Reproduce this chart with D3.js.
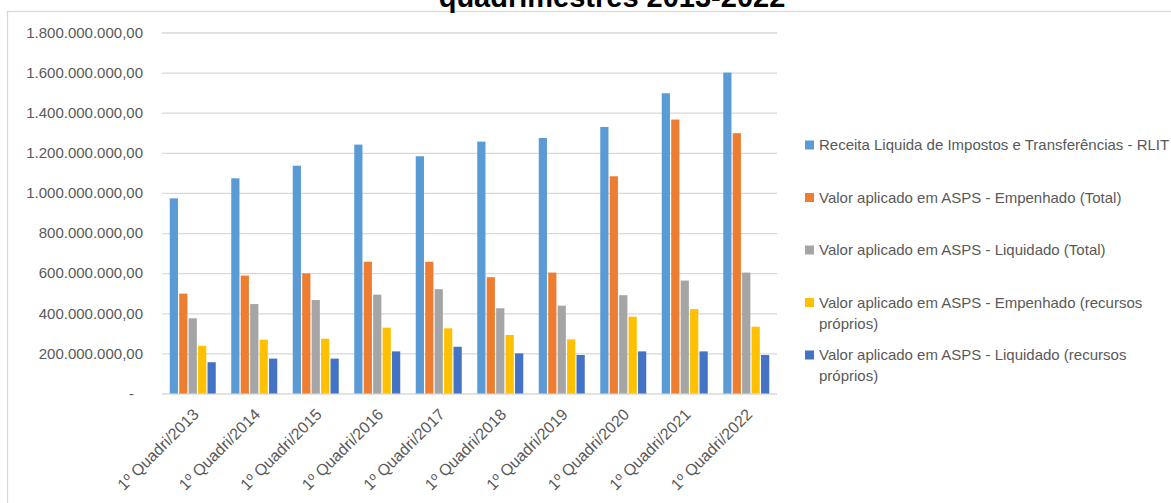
<!DOCTYPE html>
<html>
<head>
<meta charset="utf-8">
<script src="https://cdn.jsdelivr.net/npm/d3@7"></script>
<style>
  html, body { margin: 0; padding: 0; background: #fff; overflow: hidden; }
  svg { display: block; font-family: "Liberation Sans", Arial, sans-serif; }
</style>
</head>
<body>
<svg id="chart" width="1171" height="503"></svg>
<script>
// ---- data ----
const categories = ["1º Quadri/2013","1º Quadri/2014","1º Quadri/2015","1º Quadri/2016","1º Quadri/2017",
                    "1º Quadri/2018","1º Quadri/2019","1º Quadri/2020","1º Quadri/2021","1º Quadri/2022"];
const seriesNames = [
  ["Receita Liquida de Impostos e Transferências - RLIT"],
  ["Valor aplicado em ASPS - Empenhado (Total)"],
  ["Valor aplicado em ASPS - Liquidado (Total)"],
  ["Valor aplicado em ASPS - Empenhado (recursos", "próprios)"],
  ["Valor aplicado em ASPS - Liquidado (recursos", "próprios)"]
];
const rlit            = [973e6, 1073e6, 1136e6, 1241e6, 1183e6, 1256e6, 1274e6, 1329e6, 1497e6, 1600e6];
const empenhadoTotal  = [498e6,  588e6,  599e6,  657e6,  657e6,  580e6,  603e6, 1083e6, 1366e6, 1298e6];
const liquidadoTotal  = [375e6,  446e6,  466e6,  493e6,  520e6,  425e6,  438e6,  490e6,  563e6,  603e6];
const empenhadoProp   = [238e6,  268e6,  273e6,  328e6,  325e6,  292e6,  270e6,  383e6,  421e6,  333e6];
const liquidadoProp   = [156e6,  174e6,  174e6,  210e6,  233e6,  200e6,  192e6,  210e6,  210e6,  192e6];
const seriesValues = [rlit, empenhadoTotal, liquidadoTotal, empenhadoProp, liquidadoProp];
const colors = ["#5B9BD5", "#ED7D31", "#A5A5A5", "#FFC000", "#4472C4"];
const yTicks = [0, 2e8, 4e8, 6e8, 8e8, 10e8, 12e8, 14e8, 16e8, 18e8];
const titleText = "quadrimestres 2013-2022";

// ---- layout ----
const svg = d3.select("#chart");
const plot = { left: 162, right: 777, top: 32.5, bottom: 393.5 };

// outer chart border
svg.append("rect").attr("x", 7.5).attr("y", 11.5).attr("width", 1300).attr("height", 700)
  .attr("fill", "#fff").attr("stroke", "#d9d9d9").attr("stroke-width", 1.3);

// title (partly cut off at top, as in the reference)
svg.append("text").attr("x", 612).attr("y", 7).attr("text-anchor", "middle")
  .attr("font-size", 29).attr("font-weight", "bold").attr("fill", "#000").text(titleText);

const x0 = d3.scaleBand().domain(categories).range([plot.left, plot.right])
  .paddingInner(0.252).paddingOuter(0.126);
const x1 = d3.scaleBand().domain(d3.range(seriesValues.length)).range([0, x0.bandwidth()])
  .paddingInner(0.13).paddingOuter(0);
const y = d3.scaleLinear().domain([0, 18e8]).range([plot.bottom, plot.top]);

const loc = d3.formatLocale({ decimal: ",", thousands: ".", grouping: [3], currency: ["R$ ", ""] });
const fmt = loc.format(",.2f");

// y axis with gridlines
const yAxis = d3.axisLeft(y).tickValues(yTicks)
  .tickSize(-(plot.right - plot.left)).tickPadding(19)
  .tickFormat(d => d === 0 ? "-" : fmt(d));
const gy = svg.append("g").attr("transform", `translate(${plot.left},0)`).call(yAxis);
gy.select(".domain").remove();
gy.selectAll(".tick line").attr("stroke", "#d9d9d9").attr("stroke-width", 1.3);
gy.selectAll(".tick text").attr("fill", "#595959").attr("font-size", 15)
  .attr("font-family", "Liberation Sans, Arial, sans-serif");
gy.selectAll(".tick").filter(d => d === 0).select("text").attr("dx", -9);

// bars
const groups = svg.append("g").selectAll("g").data(categories).join("g")
  .attr("transform", d => `translate(${x0(d)},0)`);
groups.selectAll("rect")
  .data((c, ci) => seriesValues.map((vals, si) => ({ si, v: vals[ci] })))
  .join("rect")
  .attr("x", d => x1(d.si))
  .attr("width", x1.bandwidth())
  .attr("y", d => y(d.v))
  .attr("height", d => y(0) - y(d.v))
  .attr("fill", d => colors[d.si]);

// x axis labels
const xAxis = d3.axisBottom(x0).tickSize(0).tickPadding(0);
const gx = svg.append("g").attr("transform", `translate(0,${plot.bottom})`).call(xAxis);
gx.select(".domain").remove();
gx.selectAll(".tick text")
  .attr("fill", "#595959").attr("font-size", 16)
  .attr("font-family", "Liberation Sans, Arial, sans-serif")
  .attr("text-anchor", "end")
  .attr("dy", 0)
  .attr("transform", "translate(7,22) rotate(-45)");

// legend
const legend = svg.append("g");
const legTop = 145, legStep = 52.5, lineH = 21;
seriesNames.forEach((lines, i) => {
  const cy = legTop + i * legStep;
  legend.append("rect").attr("x", 805).attr("y", cy - 4.5).attr("width", 9).attr("height", 9)
    .attr("fill", colors[i]);
  const t = legend.append("text").attr("x", 819).attr("y", cy + 5)
    .attr("font-size", 15).attr("fill", "#595959");
  lines.forEach((ln, k) => {
    t.append("tspan").attr("x", 819).attr("dy", k === 0 ? 0 : lineH).text(ln);
  });
});
</script>
</body>
</html>
